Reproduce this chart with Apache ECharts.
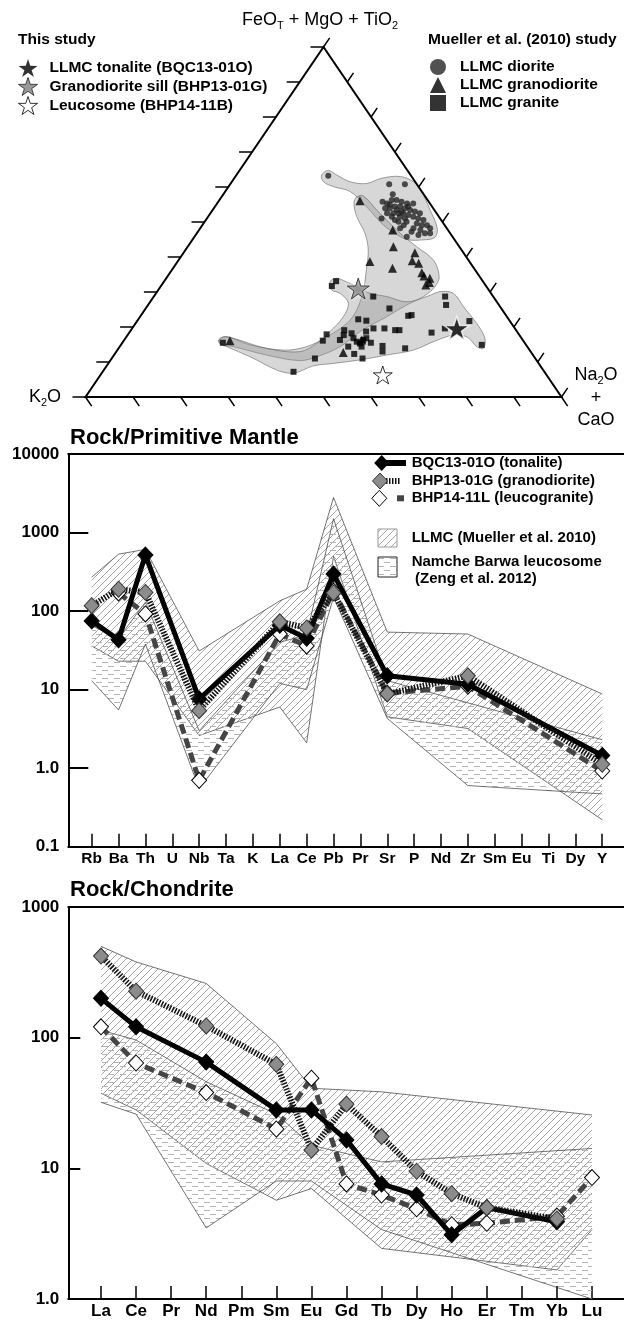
<!DOCTYPE html>
<html><head><meta charset="utf-8">
<script src="https://cdn.jsdelivr.net/npm/echarts@6/dist/echarts.min.js"></script>
<style>html,body{margin:0;padding:0;background:#fff}#c{width:624px;height:1320px}</style>
</head><body><div id="c"></div>
<script>
// ---------------- DATA ----------------
// Ternary points: [FeOT+MgO+TiO2 %, Na2O+CaO %]  (K2O = remainder)
const tonaliteStar = [[19.6, 68.2]];
const sillStar = [[31.0, 41.8]];
const leucosomeStar = [[6.3, 59.3]];
const dioritePts = [[63.2,19.4],[60.8,33.4],[60.8,36.7],[57.9,35.6],[55.8,34.5],[55.3,35.7],[56.3,36.2],[56.3,37.2],[55.8,38.5],[55.3,39.9],[55.3,41.2],[53.9,36.0],[53.9,37.0],[54.4,37.8],[54.4,38.9],[53.9,40.2],[53.4,41.5],[53.0,42.7],[52.5,44.0],[52.5,38.4],[52.5,39.5],[52.5,40.5],[52.0,41.8],[51.5,40.3],[51.0,41.6],[51.5,43.1],[51.0,44.4],[50.6,45.7],[50.6,39.7],[50.1,40.7],[50.1,42.4],[49.6,44.8],[49.1,46.1],[49.1,47.2],[52.5,37.1],[51.0,36.7],[48.2,44.8],[47.7,46.5],[48.2,48.3],[46.8,49.0],[46.8,47.9],[45.8,44.6],[48.2,42.0],[51.5,38.6],[49.1,42.3],[47.2,44.9],[46.3,46.8],[54.9,36.5],[53.4,38.7],[53.0,39.9],[54.4,40.6]];
const granodioritePts = [[56.1,29.6],[47.7,40.7],[42.95,43.2],[38.7,40.4],[36.8,46.1],[41.2,48.6],[38.9,49.2],[38.2,50.9],[35.5,52.9],[34.6,53.8],[33.9,55.4],[32.7,55.9],[32.0,55.5],[16.1,22.3],[12.7,47.8],[16.3,49.9]];
const granitePts = [[33.1,36.1],[31.7,35.9],[28.7,46.1],[25.3,51.2],[28.7,61.2],[26.3,62.6],[23.2,56.2],[23.4,56.8],[22.2,46.2],[21.8,48.1],[19.6,50.7],[19.6,53.0],[19.1,55.5],[19.1,56.4],[19.1,44.8],[17.7,45.4],[17.9,41.7],[16.1,41.8],[16.3,45.3],[14.4,48.0],[16.8,47.9],[15.8,49.1],[15.3,50.0],[16.3,50.2],[16.8,50.6],[14.4,50.8],[15.5,52.2],[14.6,55.1],[13.0,55.9],[13.9,60.2],[18.4,63.5],[19.6,65.7],[21.7,69.8],[14.9,75.8],[12.3,50.3],[11.0,52.7],[11.0,42.7],[7.2,40.1],[15.5,21.1],[18.2,46.8],[18.7,49.6]];
const dioriteField = [[63.4,17.9],[64.7,18.65],[63.4,21.1],[61.5,24.85],[61.0,28.5],[62.5,30.95],[63.0,34.6],[61.5,38.15],[58.7,41.25],[53.4,45.7],[48.2,49.8],[45.6,50.6],[44.9,48.55],[45.0,45.0],[46.8,41.6],[49.1,38.05],[54.4,31.8],[58.7,26.25],[60.1,22.05],[61.5,19.25]];
const granodioriteField = [[57.2,28.4],[57.4,29.7],[53.4,34.5],[46.8,42.7],[42.95,48.1],[39.1,53.55],[34.4,57.1],[31.5,57.65],[28.7,56.65],[26.3,54.35],[22.95,51.8],[18.7,48.35],[14.4,46.3],[11.5,42.85],[10.4,39.8],[12.0,32.0],[14.4,23.85],[14.9,21.15],[16.5,19.85],[17.2,21.05],[14.9,27.15],[13.4,34.9],[14.4,39.3],[17.2,42.1],[21.0,44.4],[24.9,44.55],[30.6,43.1],[36.3,40.85],[42.0,38.4],[46.8,35.3],[51.5,31.25],[55.3,28.75]];
const graniteField = [[32.95,34.9],[33.9,35.75],[32.95,38.3],[31.5,41.25],[29.6,45.0],[28.7,48.95],[27.2,53.9],[28.7,57.35],[30.1,59.45],[29.6,62.5],[25.8,66.5],[21.0,71.7],[16.8,75.5],[13.9,76.65],[14.4,75.0],[17.2,71.5],[17.7,68.45],[15.8,65.2],[13.4,62.2],[12.0,57.3],[10.6,52.4],[9.6,47.3],[8.9,43.45],[6.8,40.3],[7.7,36.35],[11.5,28.85],[14.4,22.45],[15.8,20.0],[17.2,20.4],[16.8,22.65],[13.9,31.05],[12.95,38.5],[15.3,40.95],[18.7,42.0],[22.95,42.7],[26.8,41.8],[29.6,38.7],[30.6,36.4]];

// Primitive-mantle normalised spider diagram
const pmCats = ['Rb','Ba','Th','U','Nb','Ta','K','La','Ce','Pb','Pr','Sr','P','Nd','Zr','Sm','Eu','Ti','Dy','Y'];
const pmYLabels = ['0.1','1.0','10','100','1000','10000'];
const bqcPM   = [75, 43, 517, null, 7.6, null, null, 66, 45, 296, null, 15, null, null, 11.7, null, null, null, null, 1.45];
const bhp13PM = [117, 190, 173, null, 5.4, null, null, 73, 61, 170, null, 8.8, null, null, 15, null, null, null, null, 1.12];
const bhp14PM = [null, 170, 92, null, 0.70, null, null, 51, 36, 180, null, 9, null, null, 11, null, null, null, null, 0.92];
const llmcPmUpper = [270, 530, 610, null, 31, null, null, 135, 190, 2800, null, 54, null, null, 51, null, null, null, null, 8.8];
const llmcPmLower = [36, 23, 23, null, 2.6, null, null, 6, 2.1, 500, null, 4.5, null, null, 3.2, null, null, null, null, 0.22];
const namchePmUpper = [65, 45, 130, null, 3, null, null, 40, 50, 1500, null, 13, null, null, null, null, null, null, null, 2.3];
const namchePmLower = [13, 5.5, 38, null, 0.55, null, null, 12, 10, 150, null, 4.3, null, null, 0.6, null, null, null, null, 0.47];

// Chondrite-normalised REE diagram
const reeCats = ['La','Ce','Pr','Nd','Pm','Sm','Eu','Gd','Tb','Dy','Ho','Er','Tm','Yb','Lu'];
const reeYLabels = ['1.0','10','100','1000'];
const bqcREE   = [200, 121, null, 65, null, 28, 28, 16.5, 7.6, 6.25, 3.1, 5.0, null, 3.9, null];
const bhp13REE = [421, 227, null, 123, null, 62.5, 13.8, 31, 17.5, 9.5, 6.4, 5.0, null, 4.1, null];
const bhp14REE = [121, 64, null, 38, null, 20, 49, 7.6, 6.25, 4.9, 3.7, 3.8, null, 4.3, 8.5];
const llmcReeUpper = [500, 380, null, 260, null, 90, 41, null, 38.5, null, null, null, null, null, 25.6];
const llmcReeLower = [37.5, 28, null, 10.9, null, 5.7, 7.0, null, 2.44, null, null, null, null, 1.67, 3.4];
const namcheReeUpper = [114, 96, null, 46, null, 26, 15, null, 11.2, null, null, null, null, null, 14.2];
const namcheReeLower = [32, 26, null, 3.5, null, 8, 8, null, 3.4, null, null, null, null, null, 1.0];

// ---------------- HELPERS ----------------
const FONT = '"Liberation Sans", Arial, Helvetica, sans-serif';
const tern = p => [p[1] + p[0] / 2, p[0]];
const pairs = arr => arr.map((v, i) => v == null ? null : [i, v]).filter(Boolean);
const STAR = 'path://M50,2 L61.2,36.2 L97.6,36.4 L68.2,57.8 L79.4,92 L50,71 L20.6,92 L31.8,57.8 L2.4,36.4 L38.8,36.2 Z';

function hatchCanvas() {
  const c = document.createElement('canvas'); c.width = 7; c.height = 7;
  const g = c.getContext('2d'); g.strokeStyle = '#8f8f8f'; g.lineWidth = 0.8;
  g.beginPath(); g.moveTo(-1, 8); g.lineTo(8, -1); g.stroke();
  g.beginPath(); g.moveTo(-1, 1); g.lineTo(1, -1); g.stroke();
  g.beginPath(); g.moveTo(6, 8); g.lineTo(8, 6); g.stroke();
  return c;
}
function dashCanvas() {
  const c = document.createElement('canvas'); c.width = 12; c.height = 8;
  const g = c.getContext('2d'); g.strokeStyle = '#b4b4b4'; g.lineWidth = 1;
  g.beginPath(); g.moveTo(0, 2.5); g.lineTo(6, 2.5); g.moveTo(6, 6.5); g.lineTo(12, 6.5); g.stroke();
  return c;
}
const HATCH = { image: hatchCanvas(), repeat: 'repeat' };
const DASH = { image: dashCanvas(), repeat: 'repeat' };

function bandSeries(name, xi, yi, upper, lower, fill, z) {
  return {
    type: 'custom', name, xAxisIndex: xi, yAxisIndex: yi, silent: true, z, clip: true,
    data: [[0, 1]],
    renderItem: function (params, api) {
      const up = pairs(upper).map(p => api.coord(p));
      const lo = pairs(lower).map(p => api.coord(p));
      return { type: 'group', children: [
        { type: 'polygon', shape: { points: up.concat(lo.slice().reverse()) }, style: { fill: fill, stroke: 'none' } },
        { type: 'polyline', shape: { points: up }, style: { fill: 'none', stroke: '#3a3a3a', lineWidth: 0.7 } },
        { type: 'polyline', shape: { points: lo }, style: { fill: 'none', stroke: '#3a3a3a', lineWidth: 0.7 } }
      ] };
    }
  };
}
function lineSeries(name, xi, yi, data, kind) {
  const s = { type: 'line', name, xAxisIndex: xi, yAxisIndex: yi, data: pairs(data), symbol: 'diamond',
    symbolSize: [15, 16], silent: true, showSymbol: true };
  if (kind === 'black') {
    s.lineStyle = { color: '#000', width: 5 }; s.itemStyle = { color: '#000', borderColor: '#000', borderWidth: 1 }; s.z = 6;
  } else if (kind === 'gray') {
    s.lineStyle = { color: '#111', width: 6, type: [1.5, 1.5], cap: 'butt' };
    s.itemStyle = { color: '#8c8c8c', borderColor: '#333', borderWidth: 1 }; s.z = 7;
  } else {
    s.lineStyle = { color: '#454545', width: 5, type: [10, 5], cap: 'butt' };
    s.itemStyle = { color: '#fff', borderColor: '#000', borderWidth: 1 }; s.z = 5;
  }
  return s;
}
function fieldSeries(name, pts) {
  return { type: 'custom', name, xAxisIndex: 0, yAxisIndex: 0, silent: true, z: 1, data: [[0, 0]],
    renderItem: (params, api) => ({ type: 'polygon',
      shape: { points: pts.map(p => api.coord(tern(p))), smooth: 0.35 },
      style: { fill: 'rgba(140,140,140,0.35)', stroke: 'rgba(100,100,100,0.75)', lineWidth: 0.8 } })
  };
}
const frameSeries = {
  type: 'custom', name: 'frame', xAxisIndex: 0, yAxisIndex: 0, silent: true, z: 3, data: [[0, 0]],
  renderItem: function (params, api) {
    const L = api.coord([0, 0]), R = api.coord([100, 0]), T = api.coord([50, 100]);
    const unit = (a, b) => { const dx = b[0] - a[0], dy = b[1] - a[1], n = Math.hypot(dx, dy); return [dx / n, dy / n]; };
    const dR = unit(L, T), dB = unit(T, R);
    const ch = [{ type: 'polygon', shape: { points: [L, R, T] }, style: { fill: 'none', stroke: '#000', lineWidth: 2 } }];
    const tick = (p, d, len) => ch.push({ type: 'line', shape: { x1: p[0], y1: p[1], x2: p[0] + d[0] * len, y2: p[1] + d[1] * len },
      style: { stroke: '#000', lineWidth: 1.5 } });
    for (let k = 0; k <= 10; k++) {
      const t = k * 10;
      tick(api.coord([t / 2, t]), [-1, 0], 13);
      tick(api.coord([100 - t / 2, t]), dR, 11);
      tick(api.coord([t, 0]), dB, 11);
    }
    return { type: 'group', children: ch };
  }
};

// axes helpers
const yFmt = v => { if (v < 0.5) return '0.1'; if (Math.abs(v - 1) < 1e-6) return '1.0'; return String(Math.round(v)); };
function bottomX(grid, min, max, cats, fs) {
  const idx = cats.map((c, i) => i);
  return { gridIndex: grid, type: 'value', min, max,
    axisLine: { onZero: false, lineStyle: { color: '#000', width: 2 } },
    axisTick: { inside: true, length: 13, customValues: idx, lineStyle: { color: '#000', width: 1.5 } },
    axisLabel: { customValues: idx, formatter: v => cats[Math.round(v)], color: '#000', fontWeight: 'bold', fontSize: fs, fontFamily: FONT, margin: 4 },
    splitLine: { show: false } };
}
function topX(grid, min, max) {
  return { gridIndex: grid, type: 'value', position: 'top', min, max,
    axisLine: { onZero: false, lineStyle: { color: '#000', width: 2 } },
    axisTick: { show: false }, axisLabel: { show: false }, splitLine: { show: false } };
}
function logY(grid, min, max, tickLen) {
  return { gridIndex: grid, type: 'log', logBase: 10, min, max,
    axisLine: { show: true, onZero: false, lineStyle: { color: '#000', width: 2 } },
    axisTick: { show: true, inside: true, length: tickLen, lineStyle: { color: '#000', width: 2 } },
    axisLabel: { formatter: yFmt, color: '#000', fontWeight: 'bold', fontSize: 17, fontFamily: FONT, margin: 9 },
    splitLine: { show: false }, minorTick: { show: false } };
}

// rich text styles
const rich = {
  n: { fontSize: 18, fontFamily: FONT, lineHeight: 22.5, fill: '#000', color: '#000' },
  s: { fontSize: 11, fontFamily: FONT, verticalAlign: 'bottom', fill: '#000', color: '#000' }
};
const LF = 'bold 15px ' + FONT;
const dia = (cx, cy, w, h) => [[cx, cy - h / 2], [cx + w / 2, cy], [cx, cy + h / 2], [cx - w / 2, cy]];
const txt = (x, y, t, font) => ({ type: 'text', x, y, z: 100,
  style: { text: t, font: font || LF, fill: '#000', verticalAlign: 'middle', textVerticalAlign: 'middle' } });

const chart = echarts.init(document.getElementById('c'), null, { renderer: 'canvas' });
chart.setOption({
  animation: false,
  backgroundColor: '#fff',
  title: [
    { text: 'Rock/Primitive Mantle', left: 70, top: 427, padding: 0, textStyle: { fontSize: 22, fontWeight: 'bold', fontFamily: FONT, color: '#000' } },
    { text: 'Rock/Chondrite', left: 70, top: 879, padding: 0, textStyle: { fontSize: 22, fontWeight: 'bold', fontFamily: FONT, color: '#000' } }
  ],
  legend: [
    { left: 18, top: 59, orient: 'vertical', padding: 0, itemGap: 0, itemWidth: 21, itemHeight: 18, selectedMode: false, symbolKeepAspect: true,
      data: [
        { name: 'LLMC tonalite (BQC13-01O)', icon: STAR, itemStyle: { color: '#000', borderWidth: 0 } },
        { name: 'Granodiorite sill (BHP13-01G)', icon: STAR, itemStyle: { color: '#808080', borderColor: '#222', borderWidth: 1 } },
        { name: 'Leucosome (BHP14-11B)', icon: STAR, itemStyle: { color: '#fff', borderColor: '#000', borderWidth: 1 } }
      ],
      textStyle: { fontSize: 15.5, fontWeight: 'bold', color: '#000', fontFamily: FONT, padding: [0, 0, 0, 6] } },
    { left: 430, top: 59, orient: 'vertical', padding: 0, itemGap: 2, itemWidth: 16, itemHeight: 16, selectedMode: false,
      data: ['LLMC diorite', 'LLMC granodiorite', 'LLMC granite'],
      textStyle: { fontSize: 15.5, fontWeight: 'bold', color: '#000', fontFamily: FONT, padding: [0, 0, 0, 9] } }
  ],
  grid: [
    { left: 85.5, top: 47, width: 476, height: 350, outerBoundsMode: 'none', containLabel: false },
    { left: 68.3, right: 0, top: 454, bottom: 473.3, outerBoundsMode: 'none', containLabel: false },
    { left: 68.3, right: 0, top: 907, bottom: 21, outerBoundsMode: 'none', containLabel: false }
  ],
  xAxis: [
    { gridIndex: 0, type: 'value', min: 0, max: 100, show: false },
    bottomX(1, -0.87, 19.81, pmCats, 15.5),
    topX(1, -0.87, 19.81),
    bottomX(2, -0.932, 14.913, reeCats, 17),
    topX(2, -0.932, 14.913)
  ],
  yAxis: [
    { gridIndex: 0, type: 'value', min: 0, max: 100, show: false },
    logY(1, 0.1, 10000, 20),
    logY(2, 1, 1000, 12)
  ],
  series: [
    fieldSeries('diorite field', dioriteField),
    fieldSeries('granodiorite field', granodioriteField),
    fieldSeries('granite field', graniteField),
    frameSeries,
    { type: 'scatter', name: 'LLMC diorite', xAxisIndex: 0, yAxisIndex: 0, data: dioritePts.map(tern), symbol: 'circle', symbolSize: 6, itemStyle: { color: '#262626' }, z: 4, silent: true },
    { type: 'scatter', name: 'LLMC granodiorite', xAxisIndex: 0, yAxisIndex: 0, data: granodioritePts.map(tern), symbol: 'triangle', symbolSize: 9, itemStyle: { color: '#000' }, z: 4, silent: true },
    { type: 'scatter', name: 'LLMC granite', xAxisIndex: 0, yAxisIndex: 0, data: granitePts.map(tern), symbol: 'rect', symbolSize: 6, itemStyle: { color: '#000' }, z: 4, silent: true },
    { type: 'scatter', name: 'LLMC tonalite (BQC13-01O)', xAxisIndex: 0, yAxisIndex: 0, data: tonaliteStar.map(tern), symbol: STAR, symbolKeepAspect: true, symbolSize: 25, itemStyle: { color: '#000', borderColor: '#fff', borderWidth: 1.5 }, z: 6, silent: true },
    { type: 'scatter', name: 'Granodiorite sill (BHP13-01G)', xAxisIndex: 0, yAxisIndex: 0, data: sillStar.map(tern), symbol: STAR, symbolKeepAspect: true, symbolSize: 22, itemStyle: { color: '#777', borderColor: '#222', borderWidth: 1, shadowColor: '#fff', shadowBlur: 4 }, z: 6, silent: true },
    { type: 'scatter', name: 'Leucosome (BHP14-11B)', xAxisIndex: 0, yAxisIndex: 0, data: leucosomeStar.map(tern), symbol: STAR, symbolKeepAspect: true, symbolSize: 19, itemStyle: { color: '#fff', borderColor: '#000', borderWidth: 1 }, z: 6, silent: true },

    bandSeries('LLMC PM', 1, 1, llmcPmUpper, llmcPmLower, HATCH, 2),
    bandSeries('Namche PM', 1, 1, namchePmUpper, namchePmLower, DASH, 2),
    lineSeries('BHP14-11L PM', 1, 1, bhp14PM, 'white'),
    lineSeries('BQC13-01O PM', 1, 1, bqcPM, 'black'),
    lineSeries('BHP13-01G PM', 1, 1, bhp13PM, 'gray'),

    bandSeries('LLMC REE', 3, 2, llmcReeUpper, llmcReeLower, HATCH, 2),
    bandSeries('Namche REE', 3, 2, namcheReeUpper, namcheReeLower, DASH, 2),
    lineSeries('BHP14-11L REE', 3, 2, bhp14REE, 'white'),
    lineSeries('BQC13-01O REE', 3, 2, bqcREE, 'black'),
    lineSeries('BHP13-01G REE', 3, 2, bhp13REE, 'gray')
  ],
  graphic: [
    // ternary labels
    { type: 'text', x: 320, y: 20, z: 100, style: { text: '{n|FeO}{s|T}{n| + MgO + TiO}{s|2}', rich, align: 'center', textAlign: 'center', verticalAlign: 'middle', textVerticalAlign: 'middle' } },
    { type: 'text', x: 61, y: 397, z: 100, style: { text: '{n|K}{s|2}{n|O}', rich, align: 'right', textAlign: 'right', verticalAlign: 'middle', textVerticalAlign: 'middle' } },
    { type: 'text', x: 596, y: 398, z: 100, style: { text: '{n|Na}{s|2}{n|O}\n{n|+}\n{n|CaO}', rich, align: 'center', textAlign: 'center', verticalAlign: 'middle', textVerticalAlign: 'middle' } },
    txt(18, 40, 'This study', 'bold 15.5px ' + FONT),
    txt(428, 40, 'Mueller et al. (2010) study', 'bold 15.5px ' + FONT),
    // spider legend
    { type: 'polygon', z: 100, shape: { points: dia(381.7, 463, 15, 16) }, style: { fill: '#000' } },
    { type: 'rect', z: 100, shape: { x: 385, y: 460, width: 21, height: 6 }, style: { fill: '#000' } },
    txt(411.7, 463, 'BQC13-01O (tonalite)'),
    { type: 'polyline', z: 100, shape: { points: [[386, 481], [401, 481]] }, style: { stroke: '#111', lineWidth: 6, lineDash: [1.5, 1.5], fill: 'none' } },
    { type: 'polygon', z: 101, shape: { points: dia(380, 481, 15, 16) }, style: { fill: '#8c8c8c', stroke: '#333', lineWidth: 1 } },
    txt(411.7, 481, 'BHP13-01G (granodiorite)'),
    { type: 'polygon', z: 100, shape: { points: dia(379.3, 498.3, 15, 16) }, style: { fill: '#fff', stroke: '#000', lineWidth: 1 } },
    { type: 'rect', z: 100, shape: { x: 397, y: 495.3, width: 7, height: 6 }, style: { fill: '#444' } },
    txt(411.7, 498.3, 'BHP14-11L (leucogranite)'),
    { type: 'rect', z: 100, shape: { x: 378, y: 529, width: 19, height: 18 }, style: { fill: HATCH, stroke: '#999', lineWidth: 1 } },
    txt(411.7, 538, 'LLMC (Mueller et al. 2010)'),
    { type: 'rect', z: 100, shape: { x: 378, y: 557, width: 19, height: 20 }, style: { fill: DASH, stroke: '#222', lineWidth: 1 } },
    txt(411.7, 562, 'Namche Barwa leucosome'),
    txt(415, 578.5, '(Zeng et al. 2012)')
  ]
});
</script></body></html>
